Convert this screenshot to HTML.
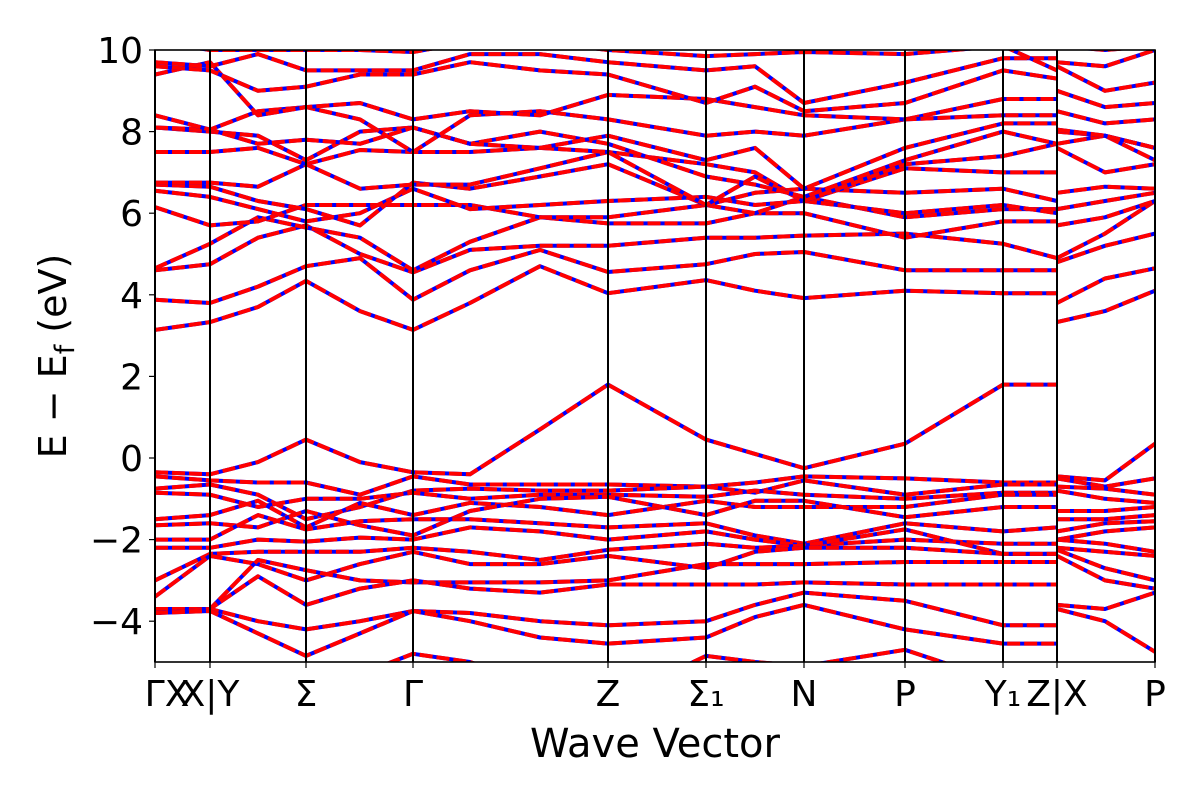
<!DOCTYPE html>
<html><head><meta charset="utf-8"><style>
body{margin:0;background:#fff}
svg text{font-family:"DejaVu Sans","Liberation Sans",sans-serif;fill:#000}
</style></head><body>
<svg id="chart" width="1200" height="800" viewBox="0 0 1200 800" xmlns="http://www.w3.org/2000/svg">
<defs><clipPath id="plotclip"><rect x="155" y="50" width="1000" height="612"/></clipPath></defs>
<rect x="155" y="50" width="1000" height="612" fill="#fff"/>
<g id="bands" clip-path="url(#plotclip)"></g>
<g id="vlines"></g>
<rect x="155" y="50" width="1000" height="612" fill="none" stroke="#000" stroke-width="1.6"/>
<g id="yaxis"></g>
<g id="xaxis"></g>
<text transform="translate(66,356) rotate(-90)" text-anchor="middle" font-size="38">E − E<tspan font-size="27" dy="8">f</tspan><tspan dy="-8"> (eV)</tspan></text>
<text x="655" y="757" text-anchor="middle" font-size="40">Wave Vector</text>
</svg>
<script>
const tickK = [0, 0.55, 1.51, 2.58, 4.53, 5.51, 6.49, 7.50, 8.48, 9.02, 10.0];
const tickLabels = ["ΓX", "X|Y", "Σ", "Γ", "Z", "Σ₁", "N", "P", "Y₁", "Z|X", "P"];
const yTicks = [-4, -2, 0, 2, 4, 6, 8, 10];
const kSeg1 = [0, 0.55, 1.03, 1.51, 2.05, 2.58, 3.15, 3.85, 4.53, 5.51, 6.0, 6.49, 7.50, 8.48, 9.02];
const kSeg2 = [9.02, 9.50, 10.0];
const bands1 = [
[3.14,3.33,3.7,4.34,3.6,3.14,3.8,4.7,4.04,4.36,4.1,3.92,4.1,4.04,4.04],
[3.88,3.8,4.2,4.7,4.9,3.88,4.6,5.1,4.56,4.75,5.0,5.05,4.6,4.6,4.6],
[4.6,4.75,5.4,5.7,5.0,4.55,5.1,5.2,5.2,5.4,5.4,5.45,5.5,5.25,4.9],
[4.65,5.25,5.9,5.65,5.4,4.6,5.3,5.9,5.75,5.75,6.0,6.0,5.4,5.8,5.8],
[6.15,5.7,5.8,6.2,6.2,6.2,6.2,5.9,5.9,6.2,6.0,6.4,5.9,6.1,6.1],
[6.55,6.4,6.1,5.8,6.0,6.6,6.1,6.2,6.3,6.4,6.2,6.3,6.0,6.2,6.0],
[6.7,6.65,6.3,6.1,5.7,6.75,6.6,6.9,7.2,6.2,6.5,6.6,6.5,6.6,6.3],
[6.75,6.75,6.65,7.2,6.6,6.7,6.7,7.1,7.5,7.2,7.0,6.3,7.1,7.0,7.0],
[7.5,7.5,7.6,7.2,7.55,7.5,7.5,7.6,7.5,6.2,6.9,6.3,7.2,7.4,7.7],
[8.1,8.0,7.9,7.3,8.0,8.1,7.7,8.0,7.7,6.9,6.7,6.4,7.3,8.0,7.7],
[8.1,8.05,7.7,7.8,7.7,8.1,7.7,7.6,7.9,7.3,7.6,6.6,7.6,8.2,8.2],
[8.4,8.05,8.5,8.6,8.3,7.5,8.4,8.5,8.3,7.9,8.0,7.9,8.3,8.8,8.8],
[9.4,9.7,8.4,8.6,8.7,8.3,8.5,8.4,8.9,8.8,8.6,8.4,8.3,8.4,8.4],
[9.6,9.5,9.0,9.1,9.4,9.4,9.7,9.5,9.4,8.7,9.1,8.5,8.7,9.5,9.3],
[9.7,9.6,9.9,9.5,9.5,9.5,9.9,9.9,9.7,9.5,9.6,8.7,9.2,9.8,9.8],
[10.2,10.0,10.0,10.0,10.0,9.95,10.2,10.2,10.0,9.85,9.9,9.95,9.9,10.1,9.5],
[-0.35,-0.4,-0.1,0.45,-0.1,-0.35,-0.4,0.7,1.8,0.45,0.1,-0.25,0.35,1.8,1.8],
[-0.45,-0.55,-0.6,-0.6,-0.9,-0.45,-0.65,-0.65,-0.65,-0.7,-0.6,-0.45,-0.5,-0.6,-0.6],
[-0.75,-0.65,-0.9,-1.5,-1.2,-0.8,-0.75,-0.8,-0.8,-0.7,-0.85,-0.55,-0.9,-0.65,-0.65],
[-0.85,-0.9,-1.2,-1.0,-1.0,-0.85,-1.0,-0.9,-0.9,-0.95,-0.8,-0.9,-1.0,-0.85,-0.85],
[-1.5,-1.4,-1.05,-1.7,-1.1,-1.4,-1.1,-1.2,-1.4,-1.05,-1.2,-1.2,-1.2,-0.9,-0.9],
[-1.65,-1.6,-1.7,-1.3,-1.65,-1.9,-1.3,-1.0,-0.95,-1.4,-1.05,-1.05,-1.45,-1.2,-1.2],
[-2.0,-2.0,-1.4,-1.75,-1.55,-1.5,-1.5,-1.6,-1.7,-1.6,-1.9,-2.1,-1.6,-1.8,-1.7],
[-2.2,-2.2,-2.0,-2.05,-1.95,-2.0,-1.7,-1.8,-2.0,-1.8,-2.0,-2.15,-2.0,-2.1,-2.1],
[-3.0,-2.35,-2.3,-2.3,-2.3,-2.2,-2.3,-2.5,-2.25,-2.1,-2.2,-2.15,-1.75,-2.35,-2.35],
[-3.4,-2.4,-2.6,-3.0,-2.6,-2.3,-2.6,-2.6,-2.4,-2.7,-2.3,-2.2,-2.2,-2.35,-2.35],
[-3.7,-3.7,-2.5,-2.75,-3.0,-3.05,-3.05,-3.05,-3.0,-2.6,-2.6,-2.6,-2.55,-2.55,-2.55],
[-3.8,-3.7,-2.9,-3.6,-3.2,-3.0,-3.2,-3.3,-3.1,-3.1,-3.1,-3.05,-3.1,-3.1,-3.1],
[-3.8,-3.7,-4.0,-4.2,-4.0,-3.75,-3.8,-4.0,-4.1,-4.0,-3.6,-3.3,-3.5,-4.1,-4.1],
[-3.8,-3.75,-4.3,-4.85,-4.3,-3.75,-4.0,-4.4,-4.55,-4.4,-3.9,-3.6,-4.2,-4.55,-4.55],
[-6,-6,-5.6,-5.5,-5.3,-4.8,-5.0,-5.6,-6,-4.85,-5.0,-5.1,-4.7,-5.5,-6]
];
const bands2 = [
[3.33,3.6,4.1],[3.8,4.4,4.65],[4.8,5.2,5.5],[4.9,5.5,6.3],[5.7,5.9,6.3],[6.1,6.3,6.5],
[6.5,6.65,6.6],[7.6,7.0,7.2],[7.7,7.9,7.3],[8.0,7.9,7.6],[8.05,7.9,7.6],[8.5,8.2,8.3],
[9.0,8.6,8.7],[9.6,9.0,9.2],[9.7,9.6,10.0],[10.1,10.0,10.1],
[-0.45,-0.55,0.35],[-0.5,-0.7,-0.5],[-0.7,-0.75,-0.9],[-0.8,-1.0,-1.1],[-1.3,-1.3,-1.2],
[-1.5,-1.5,-1.4],[-1.8,-1.6,-1.55],[-2.0,-1.8,-1.7],[-2.0,-2.1,-2.3],[-2.2,-2.3,-2.4],
[-2.25,-2.7,-3.0],[-2.4,-3.0,-3.2],[-3.6,-3.7,-3.3],[-3.7,-4.0,-4.75],[-6,-6,-6]
];
const X0=155, X1=1155, Y0=662, Y1=50, kMax=10, eMin=-5, eMax=10;
function xs(k){return X0+(k/kMax)*(X1-X0);}
function ys(e){return Y0-(e-eMin)/(eMax-eMin)*(Y0-Y1);}
const NS="http://www.w3.org/2000/svg";
function mk(tag,attrs,parent){const el=document.createElementNS(NS,tag);for(const a in attrs)el.setAttribute(a,attrs[a]);parent.appendChild(el);return el;}
const gB=document.getElementById('bands');
function drawBand(ks,es,i,seg){
  const pts=ks.map((k,j)=>xs(k).toFixed(1)+","+ys(es[j]).toFixed(1)).join(" ");
  const b=mk('polyline',{points:pts,fill:'none',stroke:'#0000ff','stroke-width':4,'stroke-linejoin':'round'},gB);
  
  
  const r=mk('polyline',{points:pts,fill:'none',stroke:'#ff0000','stroke-width':4,'stroke-dasharray':'13 4','stroke-linejoin':'round'},gB);
  
  
}
bands1.forEach((b,i)=>drawBand(kSeg1,b,i,'a'));
bands2.forEach((b,i)=>drawBand(kSeg2,b,i,'b'));
const gV=document.getElementById('vlines'), gX=document.getElementById('xaxis'), gY=document.getElementById('yaxis');
tickK.forEach((k,i)=>{
  const x=xs(k);
  const l=mk('line',{x1:x,x2:x,y1:Y1,y2:Y0,stroke:'#000','stroke-width':2},gV);
  
  
  const t=mk('line',{x1:x,x2:x,y1:Y0,y2:Y0+6,stroke:'#000','stroke-width':1.2},gX);
  
  
  const tx=mk('text',{x:(i===0?x+12:x),y:706,'text-anchor':'middle','font-size':36},gX);
  tx.textContent=tickLabels[i];
  
  
});
yTicks.forEach((v,i)=>{
  const y=ys(v);
  const t=mk('line',{x1:X0-6,x2:X0,y1:y,y2:y,stroke:'#000','stroke-width':1.2},gY);
  
  
  const tx=mk('text',{x:X0-12,y:y+13,'text-anchor':'end','font-size':36},gY);
  tx.textContent=(v<0?'−':'')+Math.abs(v);
  
  
});
</script>
</body></html>
